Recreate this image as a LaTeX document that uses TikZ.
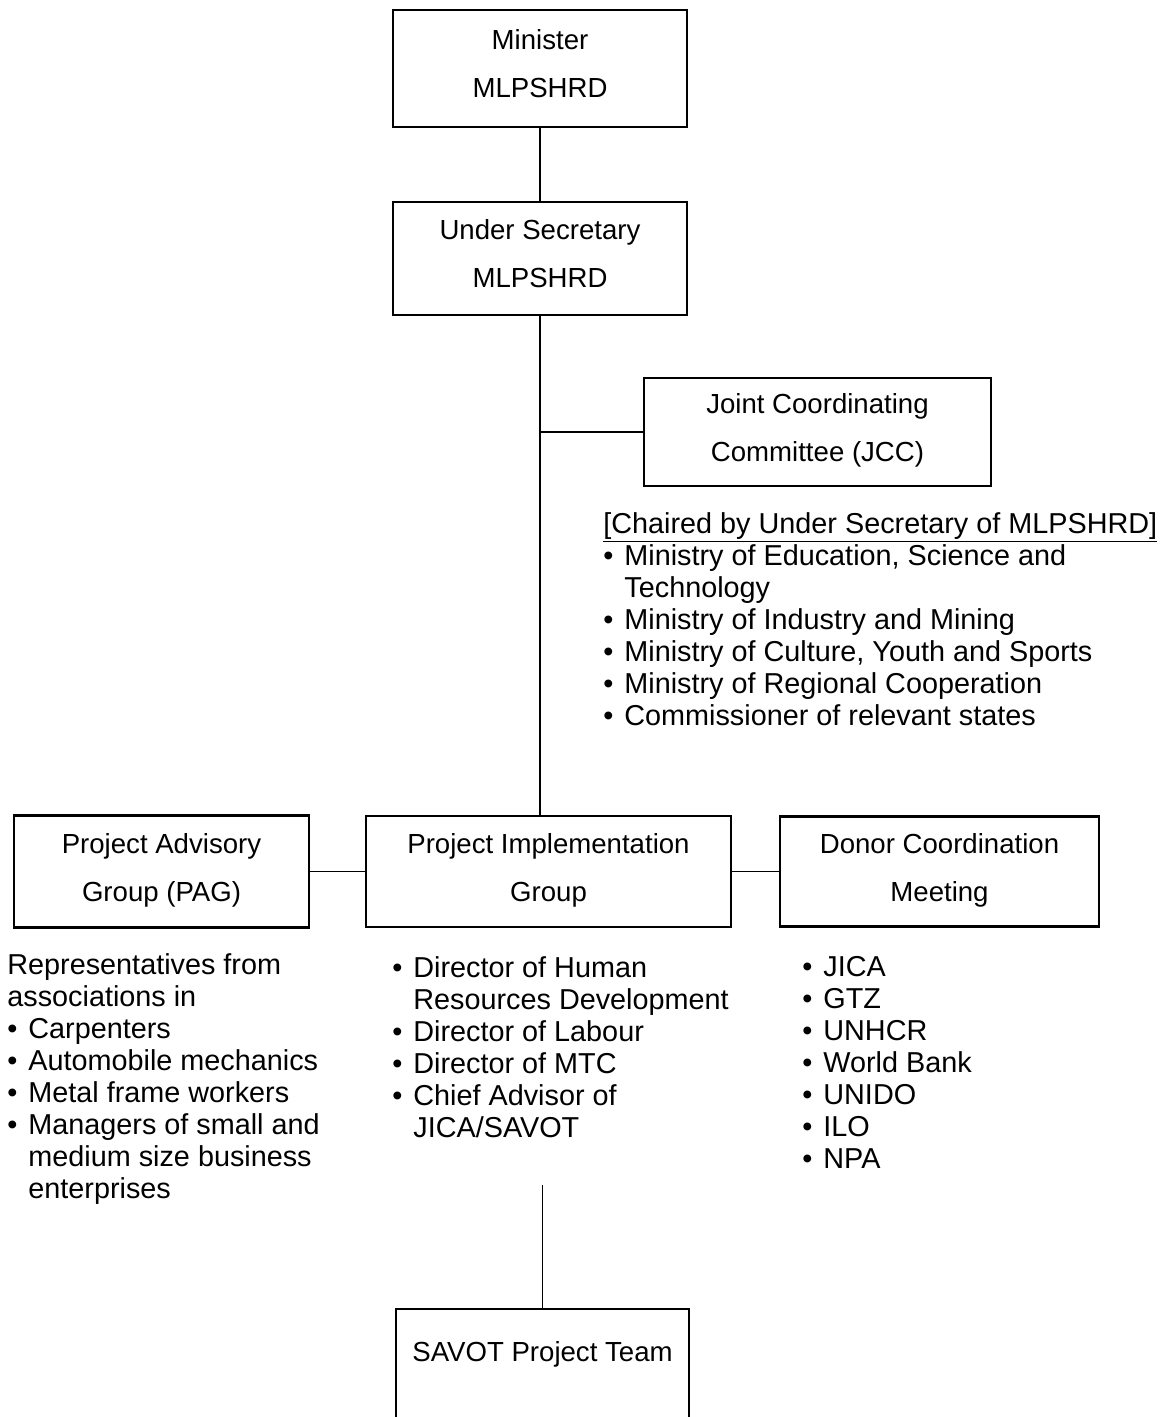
\documentclass[tikz,border=0pt]{standalone}
\usepackage{fontspec}
\setmainfont{Liberation Sans}
\usepackage{tikz}
\usetikzlibrary{positioning,calc}
\newcommand{\bul}{\makebox[10.5pt][l]{\textbullet}}
\newcommand{\cont}{\hspace*{10.5pt}}
\newcommand{\boxstrut}{\rule[-4.5pt]{0pt}{4.5pt}}
\tikzset{
  orgbox/.style={draw, line width=1.1pt, minimum width=147pt, minimum height=56pt,
    align=center, inner sep=0pt, outer sep=0pt, font=\fontsize{13.8pt}{24pt}\selectfont,
    execute at end node=\boxstrut},
  notes/.style={align=left, inner sep=0pt, anchor=base west,
    font=\fontsize{14.4pt}{16pt}\selectfont},
  link/.style={line width=0.7pt}
}
\begin{document}
\begin{tikzpicture}
\useasboundingbox (0,0) rectangle (585pt,-708.5pt);
\node[orgbox, minimum height=58.5pt] (min) at (270pt,-34.25pt) {Minister\\MLPSHRD};
\node[orgbox, minimum height=56.5pt, below=37.5pt of min] (us) {Under Secretary\\MLPSHRD};
\node[orgbox, minimum width=173.5pt, minimum height=54pt, below right=31.5pt and 52pt of us.south] (jcc) {Joint Coordinating\\Committee (JCC)};
\node[orgbox, minimum width=182.5pt, minimum height=55.5pt, below=250.5pt of us, xshift=4.25pt] (pig) {Project Implementation\\Group};
\node[orgbox, minimum width=147.5pt, left=28.5pt of pig] (pag) {Project Advisory\\Group (PAG)};
\node[orgbox, minimum width=159.5pt, minimum height=55pt, right=24.5pt of pig] (dcm) {Donor Coordination\\Meeting};
\node[orgbox, minimum width=146.5pt, minimum height=71pt, below=191pt of pig, xshift=-3pt] (savot) {SAVOT Project Team\\\vphantom{Ay}};

% member lists (base = last line)
\node[notes] (jccnotes) at ($(jcc.south west)+(-20.5pt,-119.5pt)$) {\underline{[Chaired by Under Secretary of MLPSHRD]}\\
  \bul Ministry of Education, Science and\\ \cont Technology\\
  \bul Ministry of Industry and Mining\\
  \bul Ministry of Culture, Youth and Sports\\
  \bul Ministry of Regional Cooperation\\
  \bul Commissioner of relevant states};
\node[notes] (pagnotes) at ($(pag.south west)+(-3.5pt,-135.5pt)$) {Representatives from\\associations in\\
  \bul Carpenters\\
  \bul Automobile mechanics\\
  \bul Metal frame workers\\
  \bul Managers of small and\\ \cont medium size business\\ \cont enterprises};
\node[notes] (pignotes) at ($(pig.south west)+(13pt,-105pt)$) {\bul Director of Human\\ \cont Resources Development\\
  \bul Director of Labour\\
  \bul Director of MTC\\
  \bul Chief Advisor of\\ \cont JICA/SAVOT};
\node[notes] (dcmnotes) at ($(dcm.south west)+(11pt,-121pt)$) {\bul JICA\\ \bul GTZ\\ \bul UNHCR\\ \bul World Bank\\
  \bul UNIDO\\ \bul ILO\\ \bul NPA};

\coordinate (teamlink) at ($(savot.north)+(0,62pt)$);

\draw[link] (min) -- (us);
\draw[link] (us.south) -- (us.south |- pig.north);
\draw[link] (us.south |- jcc.west) -- (jcc.west);
\draw[link] (pag.east |- pig.west) -- (pig.west);
\draw[link] (pig.east) -- (dcm.west);
\draw[link] (teamlink) -- (savot.north);
\end{tikzpicture}
\end{document}
